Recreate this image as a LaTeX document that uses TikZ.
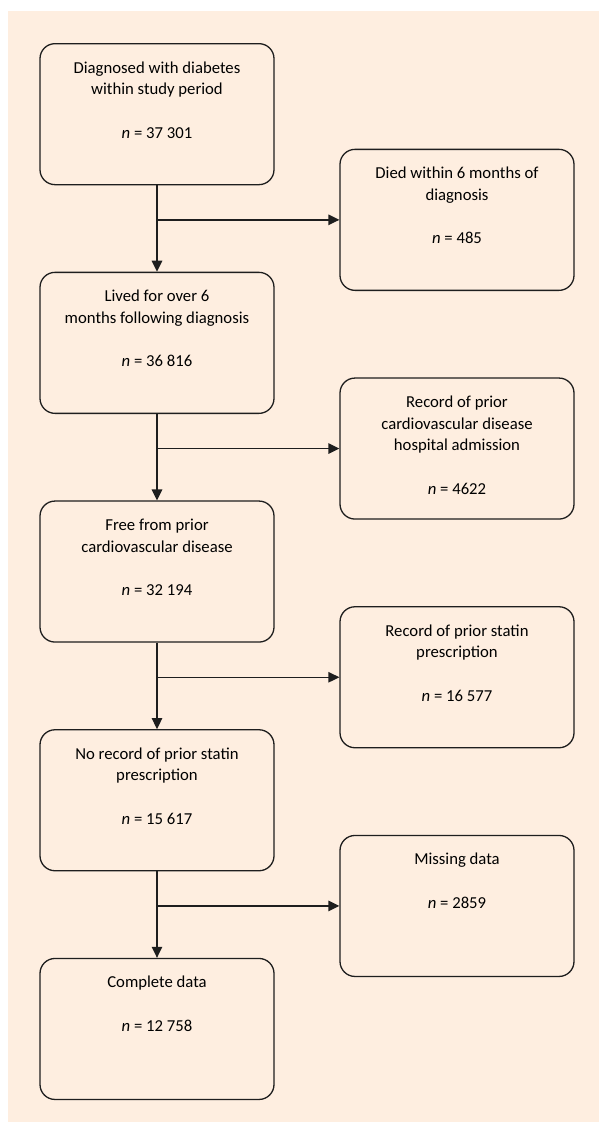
\documentclass[tikz,border=0pt]{standalone}
\usepackage{fontspec}
\setmainfont{Carlito}
\usetikzlibrary{arrows.meta}
\definecolor{peach}{RGB}{254,238,224}
\definecolor{ink}{RGB}{30,30,30}
\newcommand{\bxt}[1]{\parbox[c][141pt][t]{230pt}{\vspace*{14.3pt}\centering\strut #1}}
\begin{document}
\begin{tikzpicture}[x=1pt,y=-1pt,
  flowbox/.style={draw=ink, line width=1.3pt, rounded corners=15pt, inner sep=0pt,
    minimum width=234pt, minimum height=141pt, anchor=north,
    font=\fontsize{16.7}{21.7}\selectfont},
  flowarrow/.style={draw=ink, line width=1.3pt, -{Triangle[length=11pt,width=10.5pt]}},
  flowline/.style={draw=ink, line width=1.3pt}]
\useasboundingbox (0,0) rectangle (599,1122);
\fill[white] (0,0) rectangle (599,1122);
\fill[peach] (8,11) rectangle (599,1122);

\node[flowbox] (b1) at (157,43) {\bxt{Diagnosed with diabetes\\within study period\\[21.7pt]\textit{n} = 37 301}};
\node[flowbox] (b2) at (157,271.7) {\bxt{Lived for over 6\\months following diagnosis\\[21.7pt]\textit{n} = 36 816}};
\node[flowbox] (b3) at (157,500.4) {\bxt{Free from prior\\cardiovascular disease\\[21.7pt]\textit{n} = 32 194}};
\node[flowbox] (b4) at (157,729.1) {\bxt{No record of prior statin\\prescription\\[21.7pt]\textit{n} = 15 617}};
\node[flowbox] (b5) at (157,957.8) {\bxt{Complete data\\[21.7pt]\textit{n} = 12 758}};

\node[flowbox] (r1) at (457,148.7) {\bxt{Died within 6 months of\\diagnosis\\[21.7pt]\textit{n} = 485}};
\node[flowbox] (r2) at (457,377.4) {\bxt{Record of prior\\cardiovascular disease\\hospital admission\\[21.7pt]\textit{n} = 4622}};
\node[flowbox] (r3) at (457,606.1) {\bxt{Record of prior statin\\prescription\\[21.7pt]\textit{n} = 16 577}};
\node[flowbox] (r4) at (457,834.8) {\bxt{Missing data\\[21.7pt]\textit{n} = 2859}};

\draw[flowarrow] (b1.south) -- (b2.north);
\draw[flowarrow] (b2.south) -- (b3.north);
\draw[flowarrow] (b3.south) -- (b4.north);
\draw[flowarrow] (b4.south) -- (b5.north);

\draw[flowarrow] (b1.south |- r1.west) -- (r1.west);
\draw[flowarrow] (b2.south |- r2.west) -- (r2.west);
\draw[flowarrow] (b3.south |- r3.west) -- (r3.west);
\draw[flowarrow] (b4.south |- r4.west) -- (r4.west);
\end{tikzpicture}
\end{document}
